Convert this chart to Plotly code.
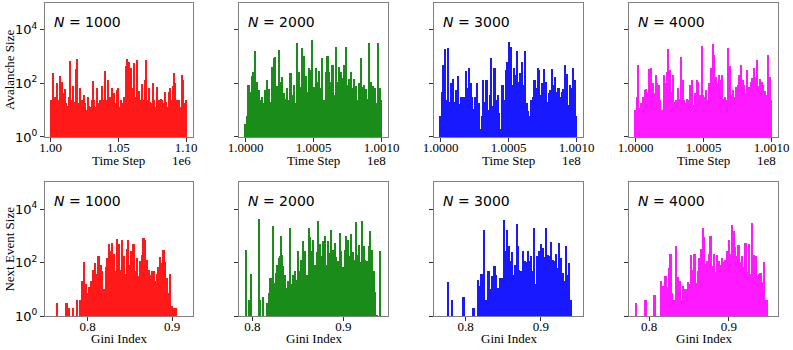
import numpy as np
import plotly.graph_objects as go

system_sizes = [1000, 2000, 3000, 4000]
colors = ["#ff0000", "#008000", "#0000ff", "#ff00ff"]

# time window of each run and the offset exponent printed under the axis
time_start = [1_000_000, 100_000_000, 100_000_000, 100_000_000]
time_end = [1_100_000, 100_100_000, 100_100_000, 100_100_000]
time_scale = [1e6, 1e8, 1e8, 1e8]
time_offset = ["1e6", "1e8", "1e8", "1e8"]
time_tickvals = [[1.00, 1.05, 1.10], [1.0, 1.0005, 1.001], [1.0, 1.0005, 1.001], [1.0, 1.0005, 1.001]]
time_ticktext = [["1.00", "1.05", "1.10"]] + [["1.0000", "1.0005", "1.0010"]] * 3

aval_1000 = [
    25, 15, 250, 30, 20, 100, 24, 190, 13, 115, 42, 60, 18, 14, 32, 690, 24, 80, 20, 335,
    790, 18, 65, 13, 24, 36, 18, 10, 32, 14, 13, 24, 120, 24, 13, 65, 18, 24, 12, 80,
    24, 290, 24, 133, 18, 32, 70, 24, 45, 18, 56, 65, 13, 25, 18, 32, 18, 450, 790, 650,
    24, 365, 65, 560, 32, 750, 18, 52, 24, 92, 24, 133, 750, 24, 65, 20, 18, 100, 25, 13,
    75, 18, 24, 27, 24, 18, 48, 20, 13, 48, 70, 24, 80, 250, 100, 24, 18, 24, 13, 205,
    133, 18, 25,
]
aval_2000 = [
    3, 6, 87, 48, 190, 275, 1550, 115, 56, 24, 30, 18, 56, 133, 60, 20, 420, 870, 950, 80,
    1780, 115, 168, 45, 27, 65, 24, 250, 36, 87, 18, 3350, 275, 75, 2050, 1050, 190, 48, 365, 320,
    4200, 75, 365, 115, 300, 70, 870, 25, 275, 1050, 275, 115, 490, 36, 2240, 115, 420, 275, 155, 490,
    2240, 87, 140, 275, 65, 140, 80, 24, 105, 870, 75, 87, 60, 27, 3350, 115, 80, 70, 18, 3350,
    65, 25,
]
aval_3000 = [
    6, 49, 490, 1900, 24, 2050, 20, 100, 140, 20, 56, 190, 17, 32, 32, 32, 300, 65, 365, 105,
    32, 11, 32, 100, 18, 2, 6, 133, 20, 133, 10, 36, 870, 14, 365, 24, 36, 8, 2, 87,
    24, 320, 650, 3650, 2370, 87, 365, 205, 1550, 115, 250, 650, 87, 1550, 18, 9, 6, 24, 30, 133,
    65, 365, 320, 36, 100, 340, 115, 20, 42, 56, 340, 87, 168, 48, 70, 32, 48, 60, 490, 225,
    15, 87, 70, 365, 133, 6,
]
aval_4000 = [
    10, 32, 490, 12, 18, 32, 56, 60, 42, 340, 365, 100, 42, 205, 100, 87, 24, 10, 205, 100,
    275, 1900, 320, 48, 205, 20, 24, 70, 27, 1000, 133, 24, 18, 27, 24, 87, 133, 15, 45, 133,
    115, 36, 2500, 36, 32, 56, 24, 100, 365, 2960, 1150, 180, 105, 205, 133, 205, 27, 32, 24, 2050,
    450, 36, 56, 32, 75, 87, 205, 490, 133, 87, 42, 320, 75, 115, 155, 365, 180, 750, 80, 140,
    115, 87, 53, 36, 1150, 180, 25,
]
avalanches = [aval_1000, aval_2000, aval_3000, aval_4000]

# next event size against the Gini index (bottom row)
gini_1000 = [
    0.7642, 0.7752, 0.7780, 0.7830, 0.7878, 0.7910, 0.7937, 0.7957, 0.7980, 0.8000,
    0.8020, 0.8047, 0.8067, 0.8087, 0.8106, 0.8130, 0.8154, 0.8177, 0.8193, 0.8217,
    0.8236, 0.8256, 0.8276, 0.8295, 0.8315, 0.8335, 0.8354, 0.8374, 0.8394, 0.8410,
    0.8429, 0.8449, 0.8469, 0.8484, 0.8504, 0.8524, 0.8547, 0.8567, 0.8587, 0.8606,
    0.8626, 0.8646, 0.8665, 0.8685, 0.8705, 0.8724, 0.8744, 0.8764, 0.8783, 0.8803,
    0.8823, 0.8843, 0.8862, 0.8882, 0.8902, 0.8921, 0.8941, 0.8961, 0.8980, 0.9000,
    0.9020, 0.9051,
]
next_1000 = [
    3, 3, 2, 2, 4, 4, 21, 100, 15, 7,
    12, 21, 53, 95, 37, 167, 82, 49, 10, 65,
    145, 480, 270, 525, 205, 49, 760, 480, 53, 700,
    167, 37, 320, 700, 82, 270, 480, 49, 145, 30,
    110, 195, 810, 700, 125, 53, 35, 49, 49, 21,
    37, 65, 155, 95, 295, 100, 26, 7, 37, 2.3,
    2, 2,
]
gini_2000 = [
    0.7938, 0.7967, 0.7993, 0.8073, 0.8088, 0.8121, 0.8168, 0.8183, 0.8205, 0.8227,
    0.8242, 0.8264, 0.8278, 0.8293, 0.8304, 0.8319, 0.8330, 0.8344, 0.8359, 0.8381,
    0.8396, 0.8418, 0.8432, 0.8451, 0.8469, 0.8487, 0.8505, 0.8527, 0.8542, 0.8560,
    0.8579, 0.8601, 0.8623, 0.8637, 0.8659, 0.8674, 0.8689, 0.8711, 0.8725, 0.8744,
    0.8762, 0.8780, 0.8799, 0.8821, 0.8835, 0.8853, 0.8872, 0.8890, 0.8908, 0.8927,
    0.8945, 0.8963, 0.8982, 0.9000, 0.9018, 0.9037, 0.9055, 0.9073, 0.9092, 0.9106,
    0.9121, 0.9139, 0.9158, 0.9172, 0.9191, 0.9209, 0.9227, 0.9245, 0.9264, 0.9282,
    0.9300, 0.9319, 0.9337, 0.9355, 0.9370, 0.9410,
]
next_2000 = [
    295, 4, 37, 4300, 4, 5, 3, 7, 26, 2200,
    17, 40, 82, 145, 180, 930, 195, 71, 35, 11,
    20, 1900, 15, 35, 46, 22, 270, 46, 125, 640,
    260, 35, 2000, 850, 270, 700, 82, 240, 3400, 480,
    167, 640, 930, 77, 640, 225, 1650, 295, 525, 155,
    115, 1240, 260, 65, 295, 930, 700, 167, 1150, 240,
    125, 3200, 195, 430, 100, 3400, 400, 125, 110, 400,
    1500, 295, 46, 8, 1.1, 270,
]
gini_3000 = [
    0.7770, 0.7823, 0.7978, 0.8111, 0.8168, 0.8190, 0.8217, 0.8248, 0.8265, 0.8292,
    0.8310, 0.8336, 0.8358, 0.8389, 0.8412, 0.8438, 0.8465, 0.8487, 0.8513, 0.8535,
    0.8553, 0.8575, 0.8597, 0.8620, 0.8642, 0.8664, 0.8686, 0.8704, 0.8721, 0.8743,
    0.8765, 0.8788, 0.8810, 0.8832, 0.8854, 0.8876, 0.8898, 0.8920, 0.8942, 0.8959,
    0.8987, 0.9009, 0.9031, 0.9053, 0.9075, 0.9097, 0.9120, 0.9142, 0.9164, 0.9186,
    0.9208, 0.9230, 0.9252, 0.9274, 0.9296, 0.9319, 0.9341, 0.9363, 0.9385, 0.9407,
]
next_3000 = [
    19, 4, 5, 2, 22, 13, 37, 1650, 4, 4,
    46, 10, 30, 71, 35, 11, 26, 26, 3900, 260,
    1650, 400, 110, 240, 35, 77, 2700, 400, 53, 46,
    270, 115, 100, 270, 110, 167, 49, 2000, 15, 167,
    260, 480, 345, 155, 2000, 195, 167, 600, 125, 110,
    205, 61, 525, 145, 40, 20, 400, 35, 95, 4,
]
gini_4000 = [
    0.7842, 0.7963, 0.8075, 0.8158, 0.8188, 0.8213, 0.8233, 0.8254, 0.8275, 0.8296,
    0.8325, 0.8346, 0.8367, 0.8388, 0.8408, 0.8429, 0.8450, 0.8471, 0.8492, 0.8513,
    0.8533, 0.8554, 0.8575, 0.8596, 0.8617, 0.8638, 0.8658, 0.8679, 0.8692, 0.8713,
    0.8733, 0.8754, 0.8775, 0.8796, 0.8817, 0.8838, 0.8858, 0.8879, 0.8900, 0.8921,
    0.8942, 0.8963, 0.8983, 0.9004, 0.9025, 0.9046, 0.9063, 0.9083, 0.9104, 0.9125,
    0.9146, 0.9167, 0.9188, 0.9213, 0.9233, 0.9254, 0.9275, 0.9296, 0.9317, 0.9338,
    0.9358, 0.9379, 0.9400, 0.9421, 0.9442, 0.9463, 0.9483,
]
next_4000 = [
    3, 4, 6, 21, 13, 30, 12, 61, 205, 7,
    4, 400, 28, 21, 4, 13, 10, 10, 19, 15,
    195, 53, 205, 17, 46, 145, 320, 2000, 850, 87,
    115, 205, 1000, 71, 205, 44, 195, 115, 77, 145,
    100, 125, 260, 700, 205, 2400, 1450, 360, 167, 430,
    100, 180, 65, 525, 44, 480, 37, 2900, 195, 180,
    30, 37, 40, 19, 100, 4, 4,
]
gini = [gini_1000, gini_2000, gini_3000, gini_4000]
next_event = [next_1000, next_2000, next_3000, next_4000]

gini_ranges = [[0.7496, 0.9244], [0.7857, 0.9488], [0.7583, 0.9554], [0.7754, 0.9609]]
time_ranges = [[0.99579, 1.10495]] + [[0.999953, 1.001044]] * 3

col_domains = [[0.0567, 0.2430], [0.3018, 0.4889], [0.5477, 0.7348], [0.7936, 0.9807]]
row_domains = [[0.6086, 0.9914], [0.0963, 0.4790]]

SERIF = "Liberation Serif"
SANS = "DejaVu Sans"
FRAME = "#808080"

fig = go.Figure()
layout = dict(
    width=793,
    height=350,
    margin=dict(l=0, r=0, t=0, b=0),
    paper_bgcolor="white",
    plot_bgcolor="white",
    showlegend=False,
    bargap=0,
)
annotations = []

for row in range(2):
    for col in range(4):
        idx = row * 4 + col + 1
        xname = "x" if idx == 1 else f"x{idx}"
        yname = "y" if idx == 1 else f"y{idx}"
        xkey = "xaxis" if idx == 1 else f"xaxis{idx}"
        ykey = "yaxis" if idx == 1 else f"yaxis{idx}"

        if row == 0:
            xs = np.linspace(time_start[col], time_end[col], len(avalanches[col])) / time_scale[col]
            fig.add_trace(go.Bar(
                x=xs, y=avalanches[col], xaxis=xname, yaxis=yname,
                marker=dict(color=colors[col], line=dict(width=0)), opacity=0.9,
            ))
            xrange, tickvals, ticktext = time_ranges[col], time_tickvals[col], time_ticktext[col]
        else:
            fig.add_trace(go.Bar(
                x=gini[col], y=next_event[col], width=0.0022, xaxis=xname, yaxis=yname,
                marker=dict(color=colors[col], line=dict(width=0)), opacity=0.9,
            ))
            xrange, tickvals, ticktext = gini_ranges[col], [0.8, 0.9], ["0.8", "0.9"]

        layout[xkey] = dict(
            domain=col_domains[col], anchor=yname, range=xrange, automargin=False,
            tickvals=tickvals, ticktext=ticktext, ticks="outside", ticklen=4,
            ticklabelstandoff=-6,
            tickcolor="#333333", showline=True, mirror=True, linecolor=FRAME, linewidth=1,
            showgrid=False, zeroline=False, tickfont=dict(family=SERIF, size=13, color="black"),
        )
        layout[ykey] = dict(
            domain=row_domains[row], anchor=xname, type="log", range=[0, 5], automargin=False,
            tickvals=[1, 100, 10000], ticktext=["10<sup>0</sup>", "10<sup>2</sup>", "10<sup>4</sup>"],
            showticklabels=(col == 0), ticks="outside", ticklen=4, tickcolor="#333333",
            showline=True, mirror=True, linecolor=FRAME, linewidth=1,
            showgrid=False, zeroline=False, tickfont=dict(family=SANS, size=13, color="black"),
        )

        annotations.append(dict(
            text=f"<i>N</i> = {system_sizes[col]}", xref=f"{xname} domain", yref=f"{yname} domain",
            x=0.045, y=0.86, xanchor="left", yanchor="middle", showarrow=False,
            font=dict(family=SANS, size=14, color="black"),
        ))
        title_y = 0.541 if row == 0 else 0.034
        annotations.append(dict(
            text="Time Step" if row == 0 else "Gini Index", xref=f"{xname} domain", yref="paper",
            x=0.5, y=title_y, xanchor="center", yanchor="middle", showarrow=False,
            font=dict(family=SERIF, size=13, color="black"),
        ))
        if row == 0:
            annotations.append(dict(
                text=time_offset[col], xref=f"{xname} domain", yref="paper",
                x=1.0, y=title_y, xanchor="right", yanchor="middle", showarrow=False,
                font=dict(family=SERIF, size=13, color="black"),
            ))

annotations.append(dict(
    text="Avalanche Size", xref="paper", yref="paper", x=10 / 793, y=0.8, textangle=-90,
    xanchor="center", yanchor="middle", showarrow=False, font=dict(family=SERIF, size=13, color="black"),
))
annotations.append(dict(
    text="Next Event Size", xref="paper", yref="paper", x=10 / 793, y=0.287, textangle=-90,
    xanchor="center", yanchor="middle", showarrow=False, font=dict(family=SERIF, size=13, color="black"),
))
layout["annotations"] = annotations

fig.update_layout(**layout)
# the page's default body margin would shift the figure by 8 px
fig.write_html(
    "out.html",
    config={"displayModeBar": False},
    post_script="document.body.style.margin = '0';",
)
